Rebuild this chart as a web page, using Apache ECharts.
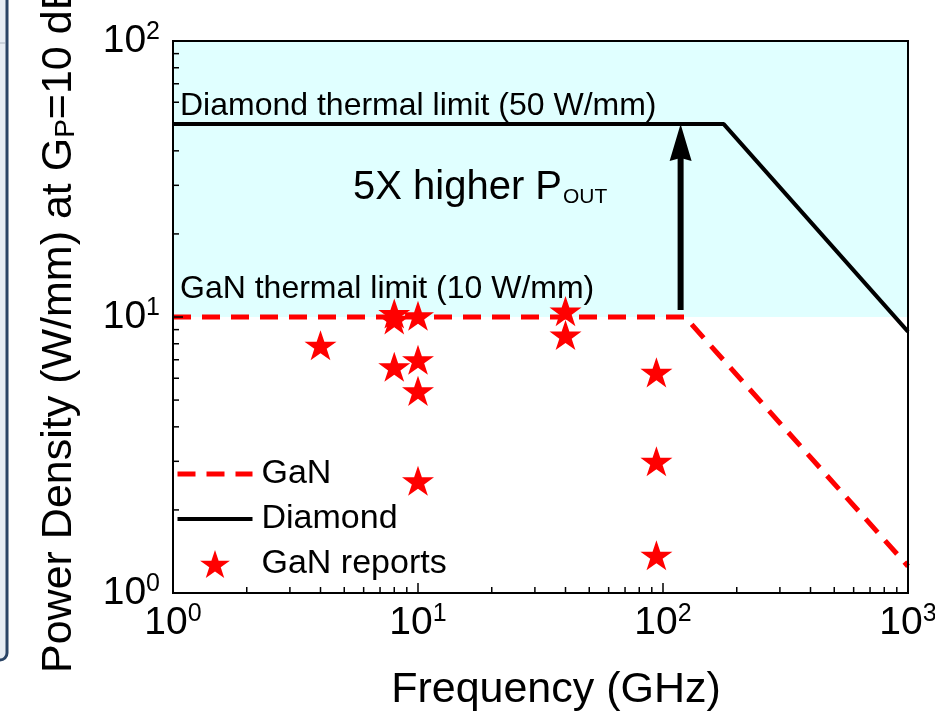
<!DOCTYPE html>
<html><head><meta charset="utf-8">
<script src="https://cdn.jsdelivr.net/npm/echarts@6/dist/echarts.min.js"></script>
<style>html,body{margin:0;padding:0;background:#fff}#c{width:935px;height:715px}</style>
</head><body><div id="c"></div>
<script>
const FONT = "'Liberation Sans', Arial, Helvetica, sans-serif";
// ---- data ----
const xTickValues = [1, 10, 100, 1000];
const yTickValues = [1, 10, 100];
const ganLimitFreq = [1, 123, 1000];
const ganLimitPower = [10, 10, 1.25];
const diamondLimitFreq = [1, 177, 1000];
const diamondLimitPower = [50, 50, 8.85];
const reportFreq = [4, 8, 8, 8, 10, 10, 10, 10, 40, 40, 94, 94, 94];
const reportPower = [7.9, 10.3, 9.8, 6.6, 10.1, 7.0, 5.4, 2.55, 10.5, 8.6, 6.3, 3.0, 1.37];
const arrowFreq = [118];
const arrowFrom = [10.6];
const arrowTo = [50];
const shadeRange = [10, 100];
const minorX = [2,3,4,5,6,7,8,9,20,30,40,50,60,70,80,90,200,300,400,500,600,700,800,900];
const minorY = [2,3,4,5,6,7,8,9,20,30,40,50,60,70,80,90];

const STAR = 'path://M50,0 L61.8,35.1 L98.9,35.1 L68.9,56.9 L80.3,91.9 L50,70.2 L19.7,91.9 L31.1,56.9 L1.1,35.1 L38.2,35.1 Z';
const supLabel = v => '{b|10}{s|' + Math.round(Math.log10(v)) + '}';
const labelRich = {
  b: {fontSize: 39, fontFamily: FONT, color: '#000', lineHeight: 42},
  s: {fontSize: 25, fontFamily: FONT, color: '#000', verticalAlign: 'top'}
};

const chart = echarts.init(document.getElementById('c'));
const axisCommon = {
  type: 'log', logBase: 10, z: 10,
  axisLine: {show: false},
  splitLine: {show: false},
  axisTick: {inside: true, length: 10, lineStyle: {color: '#000', width: 1.5}},
  axisLabel: {formatter: supLabel, rich: labelRich, color: '#000'}
};
const tickRender = (dir) => (params, api) => {
  const c = api.coord([api.value(0), api.value(1)]);
  return {type: 'line',
    shape: dir === 'x' ? {x1: c[0], y1: c[1], x2: c[0], y2: c[1] - 6} : {x1: c[0], y1: c[1], x2: c[0] + 6, y2: c[1]},
    style: {stroke: '#000', lineWidth: 1.5}};
};

chart.setOption({
  animation: false,
  backgroundColor: '#fff',
  grid: {left: 173, right: 27, top: 41, bottom: 122, outerBoundsMode: 'none', containLabel: false,
    show: true, borderColor: '#000', borderWidth: 2, backgroundColor: 'transparent', z: 10},
  xAxis: Object.assign({}, axisCommon, {min: xTickValues[0], max: xTickValues[xTickValues.length - 1],
    axisLabel: Object.assign({}, axisCommon.axisLabel, {margin: 9, hideOverlap: false})}),
  yAxis: Object.assign({}, axisCommon, {min: yTickValues[0], max: yTickValues[yTickValues.length - 1],
    axisLabel: Object.assign({}, axisCommon.axisLabel, {margin: 13})}),
  legend: {
    orient: 'vertical', left: 175, top: 457, padding: 0, itemWidth: 75, itemHeight: 28, itemGap: 11,
    selectedMode: false,
    data: [
      {name: 'GaN', itemStyle: {opacity: 0, color: 'transparent'}},
      {name: 'Diamond', itemStyle: {opacity: 0, color: 'transparent'}},
      'GaN reports'
    ],
    textStyle: {fontSize: 34, fontFamily: FONT, color: '#000', padding: [0, 0, 0, 4]},
    lineStyle: {width: 'inherit'}
  },
  series: [
    {
      name: 'Diamond', type: 'line', symbol: 'none', z: 3,
      data: diamondLimitFreq.map((f, i) => [f, diamondLimitPower[i]]),
      lineStyle: {color: '#000', width: 4},
      itemStyle: {color: '#000'},
      markArea: {silent: true, itemStyle: {color: '#e0ffff'},
        data: [[{coord: [xTickValues[0], shadeRange[0]]}, {coord: [xTickValues[3], shadeRange[1]]}]]}
    },
    {
      name: 'GaN', type: 'line', symbol: 'none', z: 4,
      data: ganLimitFreq.map((f, i) => [f, ganLimitPower[i]]),
      lineStyle: {color: '#ff0000', width: 5, type: [18, 11]},
      itemStyle: {color: '#ff0000'}
    },
    {
      name: 'GaN reports', type: 'scatter', symbol: STAR, symbolSize: 32, symbolKeepAspect: true, z: 5,
      data: reportFreq.map((f, i) => [f, reportPower[i]]),
      itemStyle: {color: '#ff0000', opacity: 1}
    },
    {
      name: 'arrow', type: 'custom', z: 6, silent: true,
      data: arrowFreq.map((f, i) => [f, arrowFrom[i], arrowTo[i]]),
      encode: {x: 0, y: [1, 2]},
      renderItem: (params, api) => {
        const a = api.coord([api.value(0), api.value(1)]);
        const b = api.coord([api.value(0), api.value(2)]);
        return {type: 'group', children: [
          {type: 'line', shape: {x1: a[0], y1: a[1], x2: b[0], y2: b[1] + 30}, style: {stroke: '#000', lineWidth: 6}},
          {type: 'polygon', shape: {points: [[b[0], b[1]], [b[0] - 11, b[1] + 37], [b[0], b[1] + 34], [b[0] + 11, b[1] + 37]]}, style: {fill: '#000'}}
        ]};
      }
    },
    {name: 'xMinor', type: 'custom', z: 11, silent: true, data: minorX.map(v => [v, yTickValues[0]]), renderItem: tickRender('x')},
    {name: 'yMinor', type: 'custom', z: 11, silent: true, data: minorY.map(v => [xTickValues[0], v]), renderItem: tickRender('y')}
  ],
  graphic: [
    {type: 'rect', z: 20, shape: {x: -20, y: -20, width: 27, height: 680, r: 7}, style: {fill: '#e6ecf3', stroke: '#2a4465', lineWidth: 3}},
    {type: 'line', z: 21, shape: {x1: 0, y1: 43, x2: 5, y2: 43}, style: {stroke: '#aab4c0', lineWidth: 1}},
    {type: 'text', z: 20, x: 180, y: 106, style: {text: 'Diamond thermal limit (50 W/mm)', fontSize: 32, fontFamily: FONT, fill: '#000', align: 'left', verticalAlign: 'middle'}},
    {type: 'text', z: 20, x: 180, y: 289, style: {text: 'GaN thermal limit (10 W/mm)', fontSize: 32, fontFamily: FONT, fill: '#000', align: 'left', verticalAlign: 'middle'}},
    {type: 'text', z: 20, x: 353, y: 168, style: {text: '{a|5X higher P}{s|OUT}', align: 'left', verticalAlign: 'top',
      rich: {a: {fontSize: 40, fontFamily: FONT, fill: '#000', lineHeight: 40, verticalAlign: 'top'},
             s: {fontSize: 21, fontFamily: FONT, fill: '#000', lineHeight: 21, padding: [19, 0, 0, 1], verticalAlign: 'bottom'}}}},
    {type: 'text', z: 20, x: 556, y: 690, style: {text: 'Frequency (GHz)', fontSize: 43, fontFamily: FONT, fill: '#000', align: 'center', verticalAlign: 'middle'}},
    {type: 'text', z: 20, x: 59, y: 673, rotation: Math.PI / 2, style: {text: '{t|Power Density (W/mm) at G}{p|P}{t|=10 dB}', align: 'left', verticalAlign: 'middle',
      rich: {t: {fontSize: 43, fontFamily: FONT, fill: '#000', lineHeight: 43, verticalAlign: 'top'},
             p: {fontSize: 28, fontFamily: FONT, fill: '#000', lineHeight: 28, padding: [22, 0, 0, 0], verticalAlign: 'bottom'}}}}
  ]
});
</script></body></html>
